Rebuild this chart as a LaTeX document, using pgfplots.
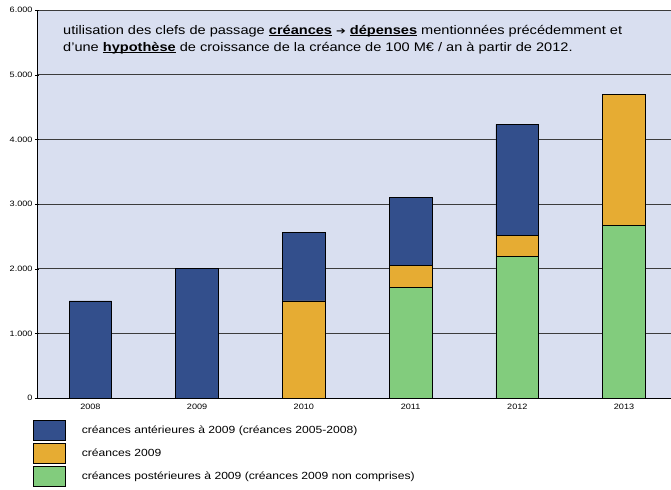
\documentclass[border=0pt]{standalone}
\usepackage{pgfplots}
\pgfplotsset{compat=1.18}
\usepackage{fontspec}
\setmainfont[FakeStretch=1.17]{Liberation Sans}
\newfontfamily\dejavu[FakeStretch=1.17]{DejaVu Sans}
\newcommand\ul[1]{\underline{\smash{#1}}}
\definecolor{bgc}{RGB}{217,223,240}
\definecolor{cblue}{RGB}{51,79,140}
\definecolor{corange}{RGB}{230,172,51}
\definecolor{cgreen}{RGB}{130,204,125}
\definecolor{gridc}{RGB}{60,60,60}
\begin{document}
\begin{tikzpicture}
\begin{axis}[
  name=ax,
  at={(0,0)}, anchor=south west,
  width=634bp, height=388bp, scale only axis,
  ybar stacked, bar width=0.4,
  xmin=-0.5, xmax=5.44, ymin=0, ymax=6000,
  xtick={0,1,2,3,4,5},
  xticklabels={2008,2009,2010,2011,2012,2013},
  extra x ticks={0.5,1.5,2.5,3.5,4.5},
  extra x tick labels={},
  extra x tick style={major tick length=4bp, tick style={black}},
  x tick style={draw=none},
  ytick={0,1000,...,6000},
  y tick style={black},
  major tick length=4bp,
  tick align=outside,
  ymajorgrids, grid style={gridc, line width=0.8bp},
  axis background/.style={fill=bgc},
  axis lines=left, axis line style={-, black, line width=0.8bp},
  /pgf/number format/assume math mode=true,
  /pgf/number format/.cd, fixed, 1000 sep={.}, /pgfplots/.cd,
  ticklabel style={font=\fontsize{7.8}{8}\selectfont},
  xticklabel style={yshift=-1bp},
  yticklabel style={xshift=1bp},
  reverse legend,
  legend style={at={(0,0)}, anchor=north west, xshift=-4bp, yshift=-22bp,
    draw=none, fill=none, font=\fontsize{10.4}{11}\selectfont,
    row sep=2.5bp, inner sep=0pt, cells={anchor=west}},
  legend image code/.code={\draw[#1, line width=0.6bp] (0bp,-10bp) rectangle (32bp,10bp);},
  legend cell align=left,
  every axis legend/.append style={nodes={inner xsep=16bp}},
]
\addplot[fill=cgreen, draw=black, line width=0.6bp] coordinates {(0,0) (1,0) (2,0) (3,1715) (4,2185) (5,2670)};
\addlegendentry{créances postérieures à 2009 (créances 2009 non comprises)}
\addplot[fill=corange, draw=black, line width=0.6bp] coordinates {(0,0) (1,0) (2,1500) (3,335) (4,335) (5,2020)};
\addlegendentry{créances 2009}
\addplot[fill=cblue, draw=black, line width=0.6bp] coordinates {(0,1500) (1,2000) (2,1060) (3,1050) (4,1710) (5,0)};
\addlegendentry{créances antérieures à 2009 (créances 2005-2008)}
\node[anchor=base west, font=\fontsize{12.5}{18}\selectfont, inner sep=0pt]
  at (rel axis cs:0.041,0.938) {utilisation des clefs de passage \ul{\textbf{créances}} {\dejavu\fontsize{10}{18}\selectfont ➔} \ul{\textbf{dépenses}} mentionnées précédemment et};
\node[anchor=base west, font=\fontsize{12.5}{18}\selectfont, inner sep=0pt]
  at (rel axis cs:0.041,0.894) {d’une \ul{\textbf{hypothèse}} de croissance de la créance de 100 M€ / an à partir de 2012.};
\end{axis}
\pgfresetboundingbox
\path ([xshift=-37bp,yshift=-92bp]ax.south west) rectangle ([yshift=10bp]ax.north east);
\end{tikzpicture}
\end{document}
